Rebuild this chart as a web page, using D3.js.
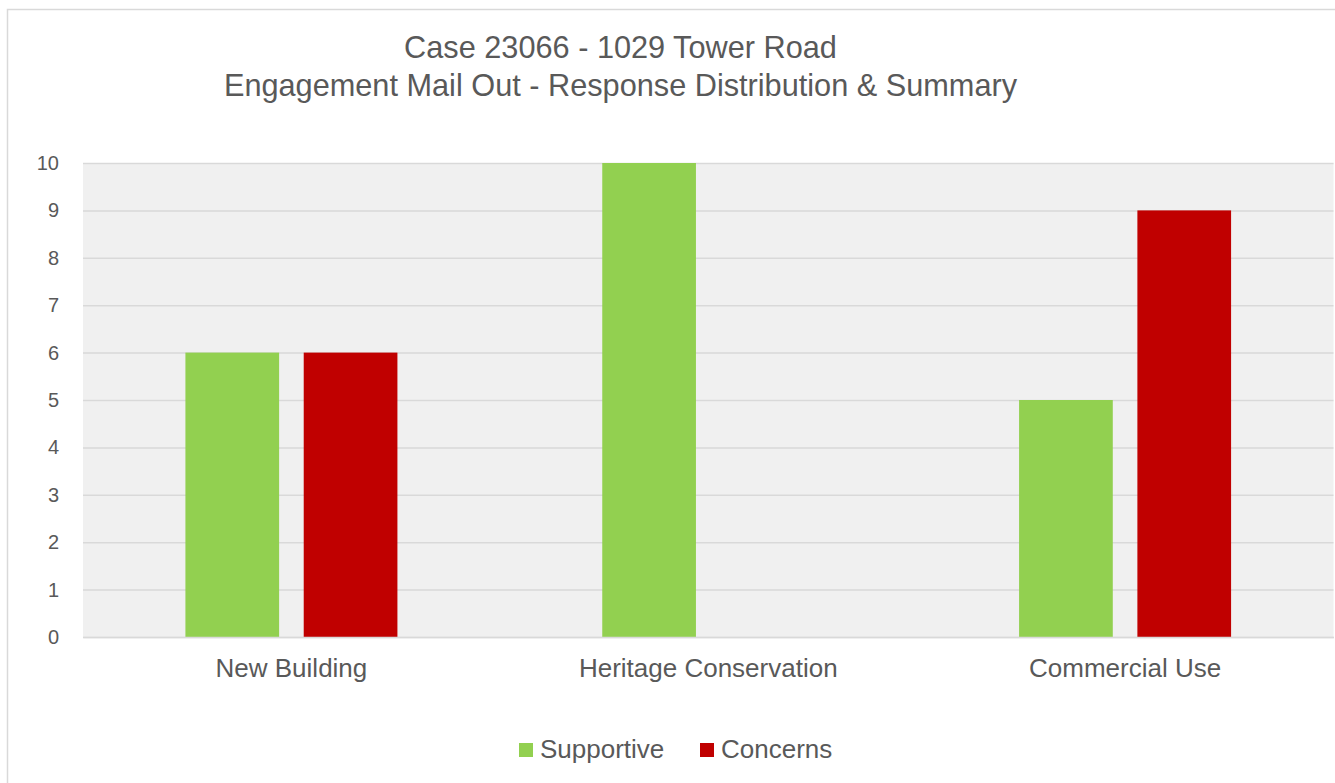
<!DOCTYPE html>
<html>
<head>
<meta charset="utf-8">
<script src="https://cdn.jsdelivr.net/npm/d3@7"></script>
<style>
  html, body { margin: 0; padding: 0; background: #fff; }
  svg { display: block; font-family: "Liberation Sans", Arial, sans-serif; }
</style>
</head>
<body>
<div id="chart"></div>
<script>
// data
const categories = ["New Building", "Heritage Conservation", "Commercial Use"];
const seriesNames = ["Supportive", "Concerns"];
const supportive = [6, 10, 5];
const concerns = [6, 0, 9];
const yTicks = [0, 1, 2, 3, 4, 5, 6, 7, 8, 9, 10];
const titleLines = ["Case 23066 - 1029 Tower Road", "Engagement Mail Out - Response Distribution & Summary"];

const colors = { Supportive: "#92d050", Concerns: "#c00000" };
const textColor = "#595959";
const gridColor = "#d9d9d9";

const dims = {
  width: 1335,
  height: 783,
  plotLeft: 83,
  plotRight: 1333.5,
  plotTop: 163,
  plotBottom: 637,
};

const svg = d3.select("#chart")
  .append("svg")
    .attr("width", dims.width)
    .attr("height", dims.height);

// outer chart border (runs off right / bottom edge like the reference)
svg.append("rect")
  .attr("x", 7.5)
  .attr("y", 9.5)
  .attr("width", dims.width + 10)
  .attr("height", dims.height + 10)
  .attr("fill", "#fff")
  .attr("stroke", gridColor)
  .attr("stroke-width", 1.5);

// title
svg.append("text")
  .attr("x", 620.5)
  .attr("y", 58)
  .attr("text-anchor", "middle")
  .attr("fill", textColor)
  .style("font-size", "30.7px")
  .selectAll("tspan")
  .data(titleLines)
  .join("tspan")
    .attr("x", 620.5)
    .attr("dy", (d, i) => i === 0 ? 0 : 38)
    .text(d => d);

// scales
const x0 = d3.scaleBand()
  .domain(categories)
  .range([dims.plotLeft, dims.plotRight])
  .padding(0);

const outer = x0.bandwidth() * 0.2457;
const x1 = d3.scaleBand()
  .domain(seriesNames)
  .range([outer, x0.bandwidth() - outer])
  .paddingInner(0.208)
  .paddingOuter(0);

const y = d3.scaleLinear()
  .domain([0, 10])
  .range([dims.plotBottom, dims.plotTop]);

// plot background
svg.append("rect")
  .attr("x", dims.plotLeft)
  .attr("y", dims.plotTop)
  .attr("width", dims.plotRight - dims.plotLeft)
  .attr("height", dims.plotBottom - dims.plotTop)
  .attr("fill", "#f0f0f0");

// gridlines via axis
const grid = svg.append("g")
  .attr("transform", `translate(${dims.plotLeft},0)`)
  .call(d3.axisLeft(y)
    .tickValues(yTicks)
    .tickSize(-(dims.plotRight - dims.plotLeft))
    .tickFormat(() => ""));
grid.select(".domain").remove();
grid.selectAll("line")
  .attr("stroke", gridColor)
  .attr("stroke-width", 1.5);

// y axis labels
const yAxis = svg.append("g")
  .attr("transform", `translate(${dims.plotLeft},0)`)
  .call(d3.axisLeft(y).tickValues(yTicks).tickSize(0).tickPadding(24));
yAxis.select(".domain").remove();
yAxis.selectAll("text")
  .attr("fill", textColor)
  .style("font-size", "20px")
  .style("font-family", "'Liberation Sans', Arial, sans-serif");

// bars
const rows = categories.map((c, i) => ({
  category: c,
  values: [
    { key: "Supportive", value: supportive[i] },
    { key: "Concerns", value: concerns[i] },
  ],
}));

svg.append("g")
  .selectAll("g")
  .data(rows)
  .join("g")
    .attr("transform", d => `translate(${x0(d.category)},0)`)
  .selectAll("rect")
  .data(d => d.values.filter(v => v.value > 0))
  .join("rect")
    .attr("x", d => x1(d.key))
    .attr("y", d => y(d.value))
    .attr("width", x1.bandwidth())
    .attr("height", d => y(0) - y(d.value))
    .attr("fill", d => colors[d.key]);

// x axis
const xAxis = svg.append("g")
  .attr("transform", `translate(0,${dims.plotBottom})`)
  .call(d3.axisBottom(x0).tickSize(0).tickPadding(22));
xAxis.select(".domain")
  .attr("stroke", gridColor)
  .attr("stroke-width", 1.5);
xAxis.selectAll("text")
  .attr("fill", textColor)
  .style("font-size", "26px")
  .style("font-family", "'Liberation Sans', Arial, sans-serif");

// legend
const legendItems = [
  { key: "Supportive", x: 519 },
  { key: "Concerns", x: 700 },
];
const legend = svg.append("g")
  .selectAll("g")
  .data(legendItems)
  .join("g")
    .attr("transform", d => `translate(${d.x},743)`);
legend.append("rect")
  .attr("width", 14)
  .attr("height", 14)
  .attr("fill", d => colors[d.key]);
legend.append("text")
  .attr("x", 21)
  .attr("y", 15)
  .attr("fill", textColor)
  .style("font-size", "26px")
  .text(d => d.key);
</script>
</body>
</html>
